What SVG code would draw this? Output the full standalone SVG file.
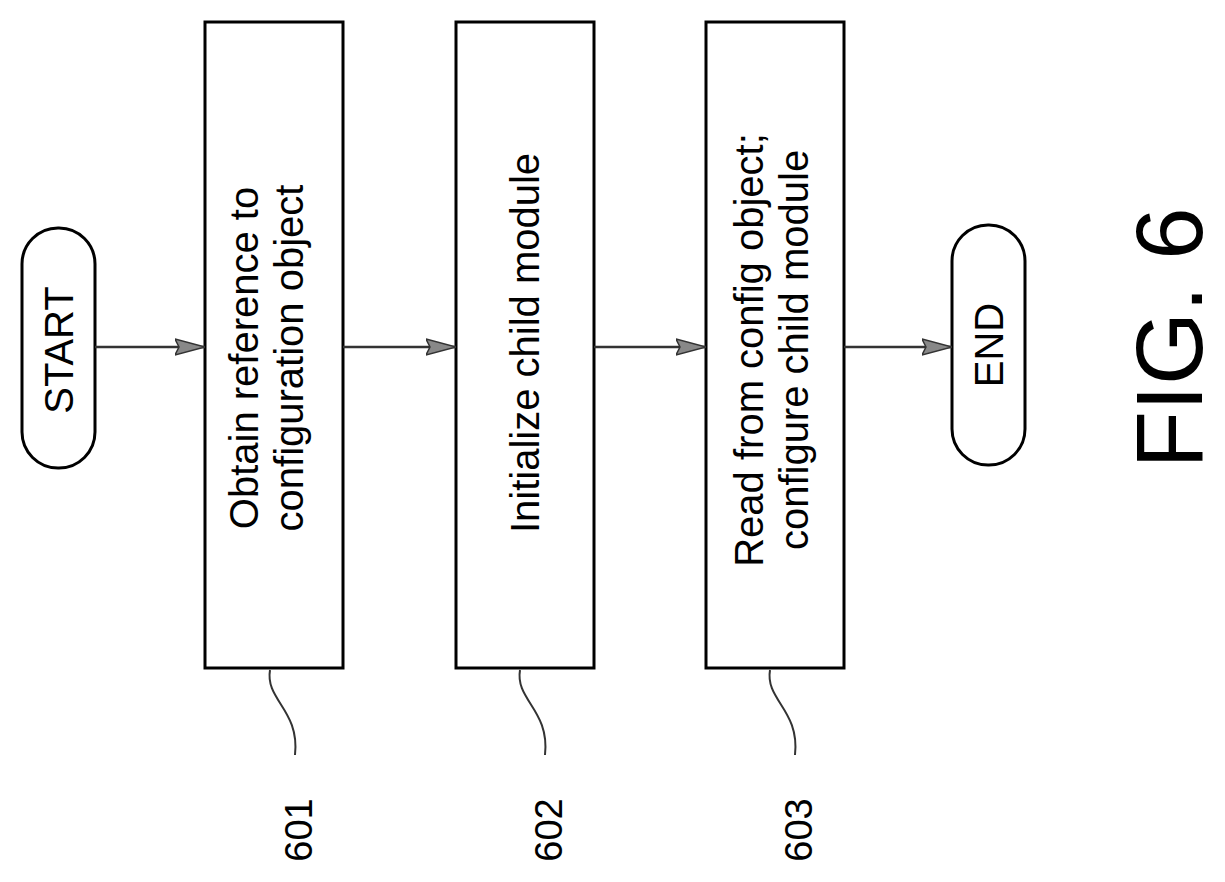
<svg xmlns="http://www.w3.org/2000/svg" width="1225" height="882" viewBox="0 0 1225 882">
<style>
.b{fill:#fff;stroke:#000;stroke-width:3}
.t{font-family:"Liberation Sans",Arial,sans-serif;font-size:40px;fill:#000;text-anchor:middle}
.c{stroke:#333;stroke-width:2.5;fill:none}
.l{stroke:#333;stroke-width:2;fill:none}
</style>
<defs>
<marker id="a" markerWidth="30" markerHeight="18" refX="30" refY="9" orient="auto" markerUnits="userSpaceOnUse" viewBox="0 0 30 18">
<path d="M0,1 L30,9 L0,17 L4,9 z" fill="#888" stroke="#333" stroke-width="1.5"/>
</marker>
</defs>
<rect width="1225" height="882" fill="#fff"/>
<g id="start"><rect class="b" x="22" y="228" width="73" height="240" rx="36"/><text class="t" transform="translate(73,350) rotate(-90)">START</text></g>
<g id="n601"><rect class="b" x="205" y="22" width="138" height="646"/><text class="t" transform="translate(258,358) rotate(-90)">Obtain reference to</text><text class="t" transform="translate(303,358) rotate(-90)">configuration object</text></g>
<g id="n602"><rect class="b" x="456" y="22" width="138" height="646"/><text class="t" transform="translate(539,343) rotate(-90)">Initialize child module</text></g>
<g id="n603"><rect class="b" x="706" y="22" width="138" height="646"/><text class="t" transform="translate(763,350) rotate(-90)">Read from config object;</text><text class="t" transform="translate(808,350) rotate(-90)">configure child module</text></g>
<g id="end"><rect class="b" x="952" y="225" width="73" height="240" rx="36"/><text class="t" transform="translate(1003,345) rotate(-90)">END</text></g>
<g id="connectors">
<line class="c" x1="95" y1="347" x2="205" y2="347" marker-end="url(#a)"/>
<line class="c" x1="343" y1="347" x2="456" y2="347" marker-end="url(#a)"/>
<line class="c" x1="594" y1="347" x2="706" y2="347" marker-end="url(#a)"/>
<line class="c" x1="844" y1="347" x2="952" y2="347" marker-end="url(#a)"/>
<path class="l" d="M270,670 C265,700 300,710 295,755"/>
<path class="l" d="M520,670 C515,700 550,710 545,755"/>
<path class="l" d="M770,670 C765,700 800,710 795,755"/>
</g>
<g id="labels">
<text class="t" style="font-size:38px" transform="translate(312,830) rotate(-90)">601</text>
<text class="t" style="font-size:38px" transform="translate(562,830) rotate(-90)">602</text>
<text class="t" style="font-size:38px" transform="translate(812,830) rotate(-90)">603</text>
<text class="t" style="font-size:94px" transform="translate(1202,338) rotate(-90)">FIG. 6</text>
</g>
</svg>
